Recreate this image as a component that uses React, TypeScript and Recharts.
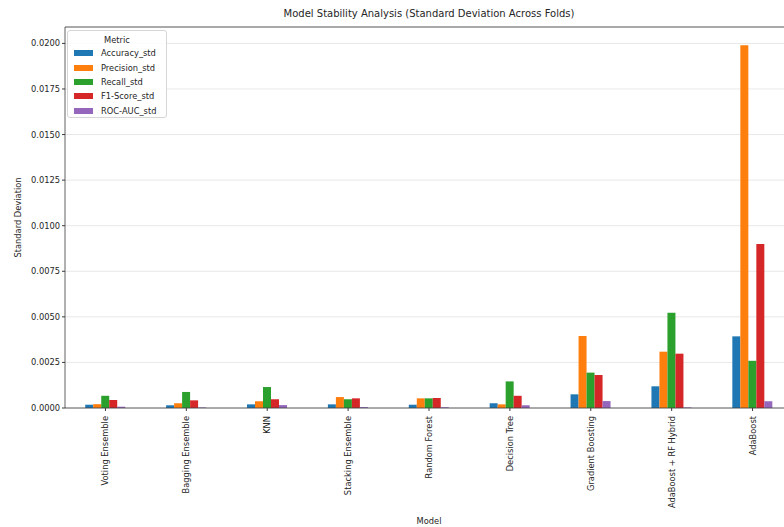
import { BarChart, Bar, XAxis, YAxis, CartesianGrid, ReferenceLine } from 'recharts'

const models = [
  'Voting Ensemble',
  'Bagging Ensemble',
  'KNN',
  'Stacking Ensemble',
  'Random Forest',
  'Decision Tree',
  'Gradient Boosting',
  'AdaBoost + RF Hybrid',
  'AdaBoost'
]

// std of each metric across CV folds, per model
const accuracyStd = [0.00018, 0.00015, 0.0002, 0.0002, 0.00018, 0.00026, 0.00075, 0.00119, 0.00393]
const precisionStd = [0.00021, 0.00026, 0.00037, 0.0006, 0.00053, 0.0002, 0.00395, 0.00309, 0.0199]
const recallStd = [0.00067, 0.00088, 0.00115, 0.00048, 0.00053, 0.00146, 0.00194, 0.00522, 0.00259]
const f1Std = [0.00044, 0.00042, 0.00048, 0.00053, 0.00055, 0.00067, 0.00181, 0.00298, 0.009]
const rocAucStd = [0.00007, 0.00003, 0.00016, 0.00005, 0.00004, 0.00015, 0.00038, 0.00003, 0.00037]

const yTicks = [0, 0.0025, 0.005, 0.0075, 0.01, 0.0125, 0.015, 0.0175, 0.02]
const yMax = 0.0209

const metrics = [
  { key: 'Accuracy_std', values: accuracyStd, color: '#1f77b4' },
  { key: 'Precision_std', values: precisionStd, color: '#ff7f0e' },
  { key: 'Recall_std', values: recallStd, color: '#2ca02c' },
  { key: 'F1-Score_std', values: f1Std, color: '#d62728' },
  { key: 'ROC-AUC_std', values: rocAucStd, color: '#9467bd' }
]

const data = models.map((model, i) => {
  const row: Record<string, string | number> = { model }
  metrics.forEach(m => {
    row[m.key] = m.values[i]
  })
  return row
})

const FONT = '"DejaVu Sans", sans-serif'
const TEXT = '#262626'
const SPINE = '#3a3a3a'

// rotated model names, reading bottom to top
function ModelTick({ x, y, payload }: any) {
  const ty = y + 3
  return (
    <text
      x={x}
      y={ty}
      transform={`rotate(-90, ${x}, ${ty})`}
      textAnchor="end"
      dominantBaseline="central"
      fontSize={8.3}
      fontFamily={FONT}
      fill={TEXT}
    >
      {payload.value}
    </text>
  )
}

function YLabel({ viewBox }: any) {
  const x = 18
  const y = viewBox.y + viewBox.height / 2
  return (
    <text
      x={x}
      y={y}
      transform={`rotate(-90, ${x}, ${y})`}
      textAnchor="middle"
      dominantBaseline="central"
      fontSize={8.3}
      fontFamily={FONT}
      fill={TEXT}
    >
      Standard Deviation
    </text>
  )
}

// legend box drawn over the upper-left corner of the plot
function MetricLegend() {
  return (
    <div
      style={{
        position: 'absolute',
        left: 67,
        top: 30,
        width: 98,
        height: 86,
        border: '1px solid #d6d6d6',
        borderRadius: 3,
        background: 'rgba(255,255,255,0.85)',
        fontFamily: FONT,
        fontSize: 8.3,
        color: TEXT
      }}
    >
      <div style={{ paddingTop: 3, height: 12, lineHeight: '12px', textAlign: 'center' }}>Metric</div>
      {metrics.map(m => (
        <div key={m.key} style={{ height: 14.4, display: 'flex', alignItems: 'center' }}>
          <span style={{ width: 19, height: 6, marginLeft: 6, background: m.color, display: 'inline-block' }} />
          <span style={{ marginLeft: 8, whiteSpace: 'nowrap' }}>{m.key}</span>
        </div>
      ))}
    </div>
  )
}

export default function App() {
  return (
    <div
      style={{
        position: 'absolute',
        left: 0,
        top: 0,
        width: 784,
        height: 527,
        overflow: 'hidden',
        background: '#fff'
      }}
    >
      <BarChart
        width={800}
        height={527}
        data={data}
        margin={{ top: 27, right: 7, bottom: 0, left: 0 }}
        barCategoryGap="25%"
        barGap={0}
      >
        <text x={429} y={17} textAnchor="middle" fontSize={10} fontFamily={FONT} fill={TEXT}>
          Model Stability Analysis (Standard Deviation Across Folds)
        </text>
        <CartesianGrid vertical={false} stroke="#e2e2e2" strokeWidth={0.8} />
        <XAxis
          dataKey="model"
          interval={0}
          height={119}
          tick={<ModelTick />}
          tickSize={3}
          tickLine={{ stroke: SPINE }}
          axisLine={{ stroke: SPINE, strokeWidth: 0.8 }}
          label={{
            value: 'Model',
            position: 'insideBottom',
            offset: 3,
            style: { fontSize: 8.3, fontFamily: FONT, fill: TEXT }
          }}
        />
        <YAxis
          width={65}
          domain={[0, yMax]}
          ticks={yTicks}
          tickFormatter={(v: number) => v.toFixed(4)}
          tick={{ fontSize: 8.3, fontFamily: FONT, fill: TEXT }}
          tickSize={3}
          tickMargin={2}
          tickLine={{ stroke: SPINE }}
          axisLine={{ stroke: SPINE, strokeWidth: 0.8 }}
          label={<YLabel />}
        />
        <ReferenceLine y={yMax} stroke={SPINE} strokeWidth={0.8} />
        {metrics.map(m => (
          <Bar key={m.key} dataKey={m.key} fill={m.color} isAnimationActive={false} />
        ))}
      </BarChart>
      <MetricLegend />
    </div>
  )
}
